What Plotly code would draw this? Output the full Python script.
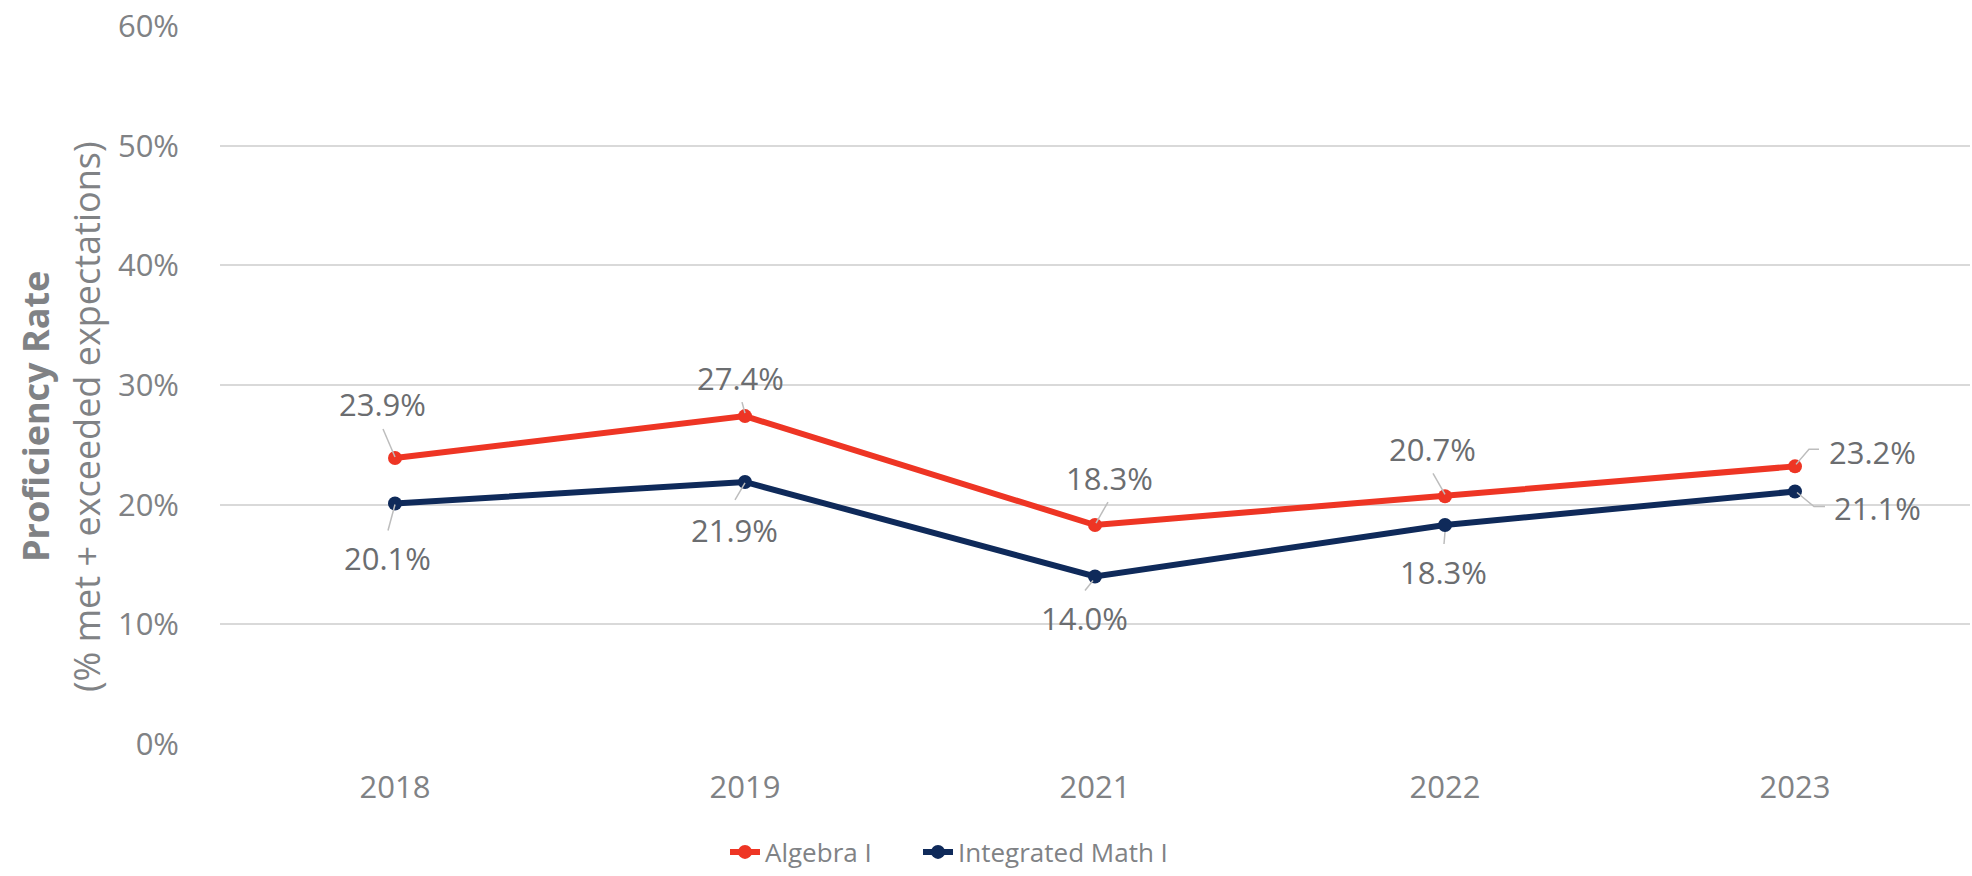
import plotly.graph_objects as go

years = ["2018", "2019", "2021", "2022", "2023"]
algebra = [23.9, 27.4, 18.3, 20.7, 23.2]
int_math = [20.1, 21.9, 14.0, 18.3, 21.1]
series_names = ["Algebra I", "Integrated Math I"]
y_ticks = [0, 10, 20, 30, 40, 50, 60]

RED = "#EE3524"
NAVY = "#0F2A5A"
TICK_GRAY = "#808285"
LABEL_GRAY = "#6B6D70"
LEADER = "#BDBDBD"
FONT = "Open Sans"

# label offsets (px, +y up) and leader-line polylines (px offsets from point)
alg_label_off = [(-13, 54), (-5, 38), (14, 47), (-13, 47), (77, 14)]
im_label_off = [(-8, -55), (-11, -48), (-11, -42), (-2, -47), (82, -16)]
alg_leaders = [[(-12, 29), (0, 1)], [(-3, 14), (0, 3)], [(13, 23), (1, 2)],
               [(-12, 23), (0, 2)], [(1, 2), (14, 17), (24, 17)]]
im_leaders = [[(-7, -27), (0, -1)], [(-10, -18), (0, -1)], [(-10, -14), (-2, -4)],
              [(-1, -19), (0, -7)], [(2, -1), (19, -15), (30, -15)]]

xpos = list(range(len(years)))

fig = go.Figure()
for name, vals, col, lg in [(series_names[0], algebra, RED, "legend"),
                            (series_names[1], int_math, NAVY, "legend2")]:
    fig.add_trace(go.Scatter(
        x=xpos, y=vals, name=name, mode="lines+markers",
        line=dict(color=col, width=6),
        marker=dict(color=col, size=14),
        hoverinfo="skip", legend=lg,
    ))

annotations = []
shapes = []
for vals, offs, leaders in [(algebra, alg_label_off, alg_leaders), (int_math, im_label_off, im_leaders)]:
    for xi, v, (dx, dy), pts in zip(xpos, vals, offs, leaders):
        annotations.append(dict(
            x=xi, y=v, xref="x", yref="y", text=f"{v:.1f}%", showarrow=False,
            xshift=dx, yshift=dy, xanchor="center", yanchor="middle",
            font=dict(family=FONT, size=31, color=LABEL_GRAY),
        ))
        path = "M" + "L".join(f"{px},{py}" for px, py in pts)
        shapes.append(dict(
            type="path", xref="x", yref="y", xsizemode="pixel", ysizemode="pixel",
            xanchor=xi, yanchor=v, path=path,
            line=dict(color=LEADER, width=1.5), layer="above",
        ))

FW, FH = 1972, 876
L, R, T, B = 220, 2, 26, 132
W = FW - L - R
H = FH - T - B

def px_to_paper_x(px):
    return (px - L) / W

def px_to_paper_y(py):
    return (FH - B - py) / H

# two-line axis title
for px_x, txt in [(35, "<b>Proficiency Rate</b>"), (86, "(% met + exceeded expectations)")]:
    annotations.append(dict(
        x=px_to_paper_x(px_x), y=px_to_paper_y(417), xref="paper", yref="paper", text=txt,
        textangle=-90, showarrow=False, xanchor="center", yanchor="middle",
        font=dict(family=FONT, size=36, color="#808285"),
    ))

legend_common = dict(orientation="h", xanchor="left", yanchor="middle",
                     y=px_to_paper_y(852), bgcolor="rgba(0,0,0,0)",
                     font=dict(family=FONT, size=26, color=TICK_GRAY),
                     itemclick=False, itemdoubleclick=False)

fig.update_layout(
    width=FW, height=FH,
    margin=dict(l=L, r=R, t=T, b=B, autoexpand=False),
    paper_bgcolor="white", plot_bgcolor="white",
    font=dict(family=FONT, size=31, color=TICK_GRAY),
    showlegend=True,
    hovermode=False,
    legend=dict(x=px_to_paper_x(725), **legend_common),
    legend2=dict(x=px_to_paper_x(918), **legend_common),
    annotations=annotations,
    shapes=shapes,
)
fig.update_xaxes(range=[-0.5, 4.5], tickvals=xpos, ticktext=years,
                 showgrid=False, showline=False, zeroline=False,
                 ticks="", ticklabelstandoff=22,
                 tickfont=dict(family=FONT, size=31, color=TICK_GRAY))
fig.update_yaxes(range=[0, 60], tickvals=y_ticks, ticktext=[f"{t}%" for t in y_ticks],
                 showgrid=True, gridcolor="#D9D9D9", gridwidth=1.5,
                 zeroline=False, showline=False, ticks="", ticklabelstandoff=40,
                 ticklabeloverflow="allow",
                 tickfont=dict(family=FONT, size=31, color=TICK_GRAY))

# remove the browser's default 8px body margin so the figure fills the window
fig.write_html("out.html", config={"displayModeBar": False},
               post_script="document.body.style.margin='0';document.body.style.overflow='hidden';")
